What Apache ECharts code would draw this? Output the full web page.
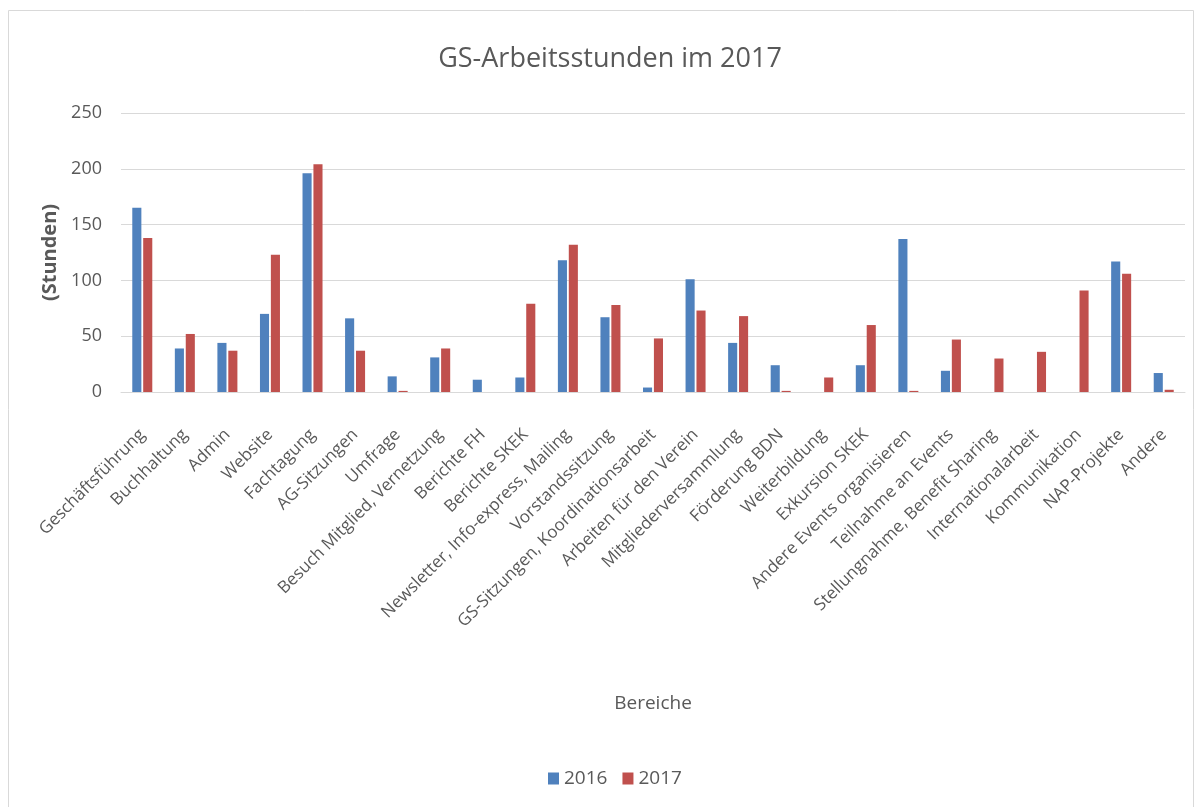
<!DOCTYPE html>
<html>
<head>
<meta charset="utf-8">
<script src="https://cdn.jsdelivr.net/npm/echarts@6/dist/echarts.min.js"></script>
<style>
html,body{margin:0;padding:0;background:#fff;}
#chart{width:1198px;height:807px;}
</style>
</head>
<body>
<div id="chart"></div>
<script>
const categories = ["Geschäftsführung","Buchhaltung","Admin","Website","Fachtagung","AG-Sitzungen","Umfrage","Besuch Mitglied, Vernetzung","Berichte FH","Berichte SKEK","Newsletter, Info-express, Mailing","Vorstandssitzung","GS-Sitzungen, Koordinationsarbeit","Arbeiten für den Verein","Mitgliederversammlung","Förderung BDN","Weiterbildung","Exkursion SKEK","Andere Events organisieren","Teilnahme an Events","Stellungnahme, Benefit Sharing","Internationalarbeit","Kommunikation","NAP-Projekte","Andere"];
const values2016 = [165,39,44,70,196,66,14,31,11,13,118,67,4,101,44,24,0,24,137,19,0,0,0,117,17];
const values2017 = [138,52,37,123,204,37,1,39,0,79,132,78,48,73,68,1,13,60,1,47,30,36,91,106,2];
const yTicks = [0,50,100,150,200,250];

const fontFam = '"Open Sans","Noto Sans",sans-serif';
const chart = echarts.init(document.getElementById('chart'));
chart.setOption({
  animation:false,
  textStyle:{fontFamily:fontFam},
  title:{
    text:'GS-Arbeitsstunden im 2017',
    left:605, textAlign:'center', top:41,
    textStyle:{fontSize:27,fontWeight:'normal',color:'#595959',fontFamily:fontFam}
  },
  graphic:[{
    type:'rect', z:-1, silent:true,
    shape:{x:8.5,y:10.5,width:1185,height:840},
    style:{fill:'none',stroke:'#d9d9d9',lineWidth:1}
  }],
  legend:{
    data:['2016','2017'],
    top:764, left:543,
    itemWidth:11, itemHeight:12, itemGap:15,
    icon:'rect',
    textStyle:{fontSize:19,color:'#595959'}
  },
  grid:{left:121,right:13,top:113,bottom:415,containLabel:false},
  xAxis:{
    type:'category',
    data:categories,
    name:'Bereiche',
    nameLocation:'middle',
    nameGap:302,
    nameTextStyle:{fontSize:19,color:'#595959'},
    axisTick:{show:false},
    axisLine:{lineStyle:{color:'#d9d9d9'}},
    axisLabel:{rotate:45,interval:0,fontSize:17,color:'#595959',margin:40}
  },
  yAxis:{
    type:'value',
    min:yTicks[0], max:yTicks[yTicks.length-1], interval:50,
    name:'(Stunden)',
    nameLocation:'middle',
    nameGap:61,
    nameTextStyle:{fontSize:20,fontWeight:'bold',color:'#595959'},
    axisLine:{show:false},
    axisTick:{show:false},
    axisLabel:{fontSize:18,color:'#595959',margin:19},
    splitLine:{lineStyle:{color:'#d9d9d9'}}
  },
  series:[
    {name:'2016',type:'bar',data:values2016,itemStyle:{color:'#4F81BD'},barGap:'20%',barCategoryGap:'53%'},
    {name:'2017',type:'bar',data:values2017,itemStyle:{color:'#C0504D'},barGap:'20%',barCategoryGap:'53%'}
  ]
});
</script>
</body>
</html>
